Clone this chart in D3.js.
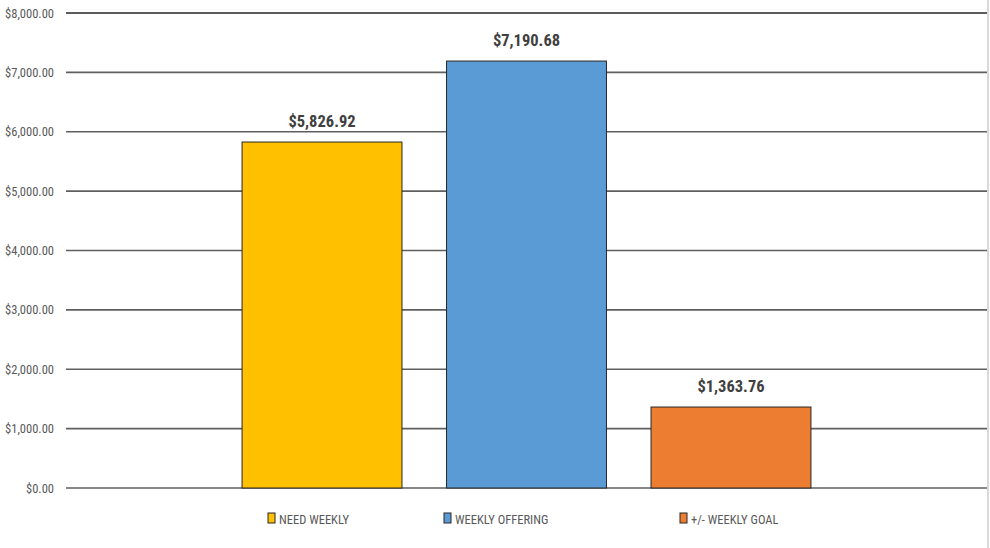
<!DOCTYPE html>
<html><head><meta charset="utf-8">
<script src="https://cdn.jsdelivr.net/npm/d3@7"></script>
<style>
body{margin:0;background:#fff;}
svg{display:block;}
text{font-family:"Roboto Condensed","Liberation Sans Narrow","Arial Narrow",sans-serif;}
</style></head>
<body><svg id="c" width="990" height="548"></svg>
<script>
const seriesNames = ["NEED WEEKLY", "WEEKLY OFFERING", "+/- WEEKLY GOAL"];
const seriesValues = [5826.92, 7190.68, 1363.76];
const seriesColors = ["#FFC000", "#5B9BD5", "#ED7D31"];
const tickValues = [0, 1000, 2000, 3000, 4000, 5000, 6000, 7000, 8000];

const svg = d3.select("#c");
const W = 990, H = 548;
const plot = {left: 66, right: 987, top: 13, bottom: 488};

svg.append("rect").attr("x",0).attr("y",0).attr("width",W).attr("height",H).attr("fill","#fff");
svg.append("line").attr("x1",988).attr("x2",988).attr("y1",0).attr("y2",H).attr("stroke","#d9d9d9").attr("stroke-width",2);

const y = d3.scaleLinear().domain([0, 8000]).range([plot.bottom, plot.top]);
const x = d3.scaleBand().domain(seriesNames).range([plot.left, plot.right])
  .paddingInner(0.218).paddingOuter(0.861);

const fmt = d3.format("$,.2f");

// gridlines
const g = svg.append("g");
g.selectAll("line.grid").data(tickValues).join("line")
  .attr("x1", plot.left).attr("x2", plot.right)
  .attr("y1", d => y(d)).attr("y2", d => y(d))
  .attr("stroke", d => d === 8000 ? "#262626" : "#5f5f5f")
  .attr("stroke-width", 1.6);

// y axis labels
const yAxis = d3.axisLeft(y).tickValues(tickValues).tickFormat(fmt).tickSize(0).tickPadding(12);
const ya = svg.append("g").attr("transform", `translate(${plot.left},0)`).call(yAxis);
ya.select(".domain").remove();
ya.selectAll("text").attr("fill","#595959").style("font-size","12.5px")
  .style("font-family",'"Roboto Condensed","Liberation Sans Narrow",sans-serif');

// bars
svg.selectAll("rect.bar").data(seriesNames).join("rect")
  .attr("class","bar")
  .attr("x", d => x(d)).attr("width", x.bandwidth())
  .attr("y", (d,i) => y(seriesValues[i]))
  .attr("height", (d,i) => y(0) - y(seriesValues[i]))
  .attr("fill", (d,i) => seriesColors[i])
  .attr("stroke", "#262626").attr("stroke-width", 1);

// value labels
svg.selectAll("text.val").data(seriesNames).join("text")
  .attr("class","val")
  .attr("x", d => x(d) + x.bandwidth()/2)
  .attr("y", (d,i) => y(seriesValues[i]) - 15)
  .attr("text-anchor","middle")
  .attr("fill","#404040")
  .style("font-size","16.5px").style("font-weight","bold")
  .text((d,i) => fmt(seriesValues[i]));

// legend
const legendX = [268, 444, 680];
const lg = svg.append("g");
seriesNames.forEach((n,i) => {
  lg.append("rect").attr("x", legendX[i]).attr("y", 513).attr("width", 7).attr("height", 10)
    .attr("fill", seriesColors[i]).attr("stroke","#262626").attr("stroke-width",1);
  lg.append("text").attr("x", legendX[i] + 11).attr("y", 523.5)
    .attr("fill","#595959").style("font-size","12.5px").text(n);
});
</script></body></html>
